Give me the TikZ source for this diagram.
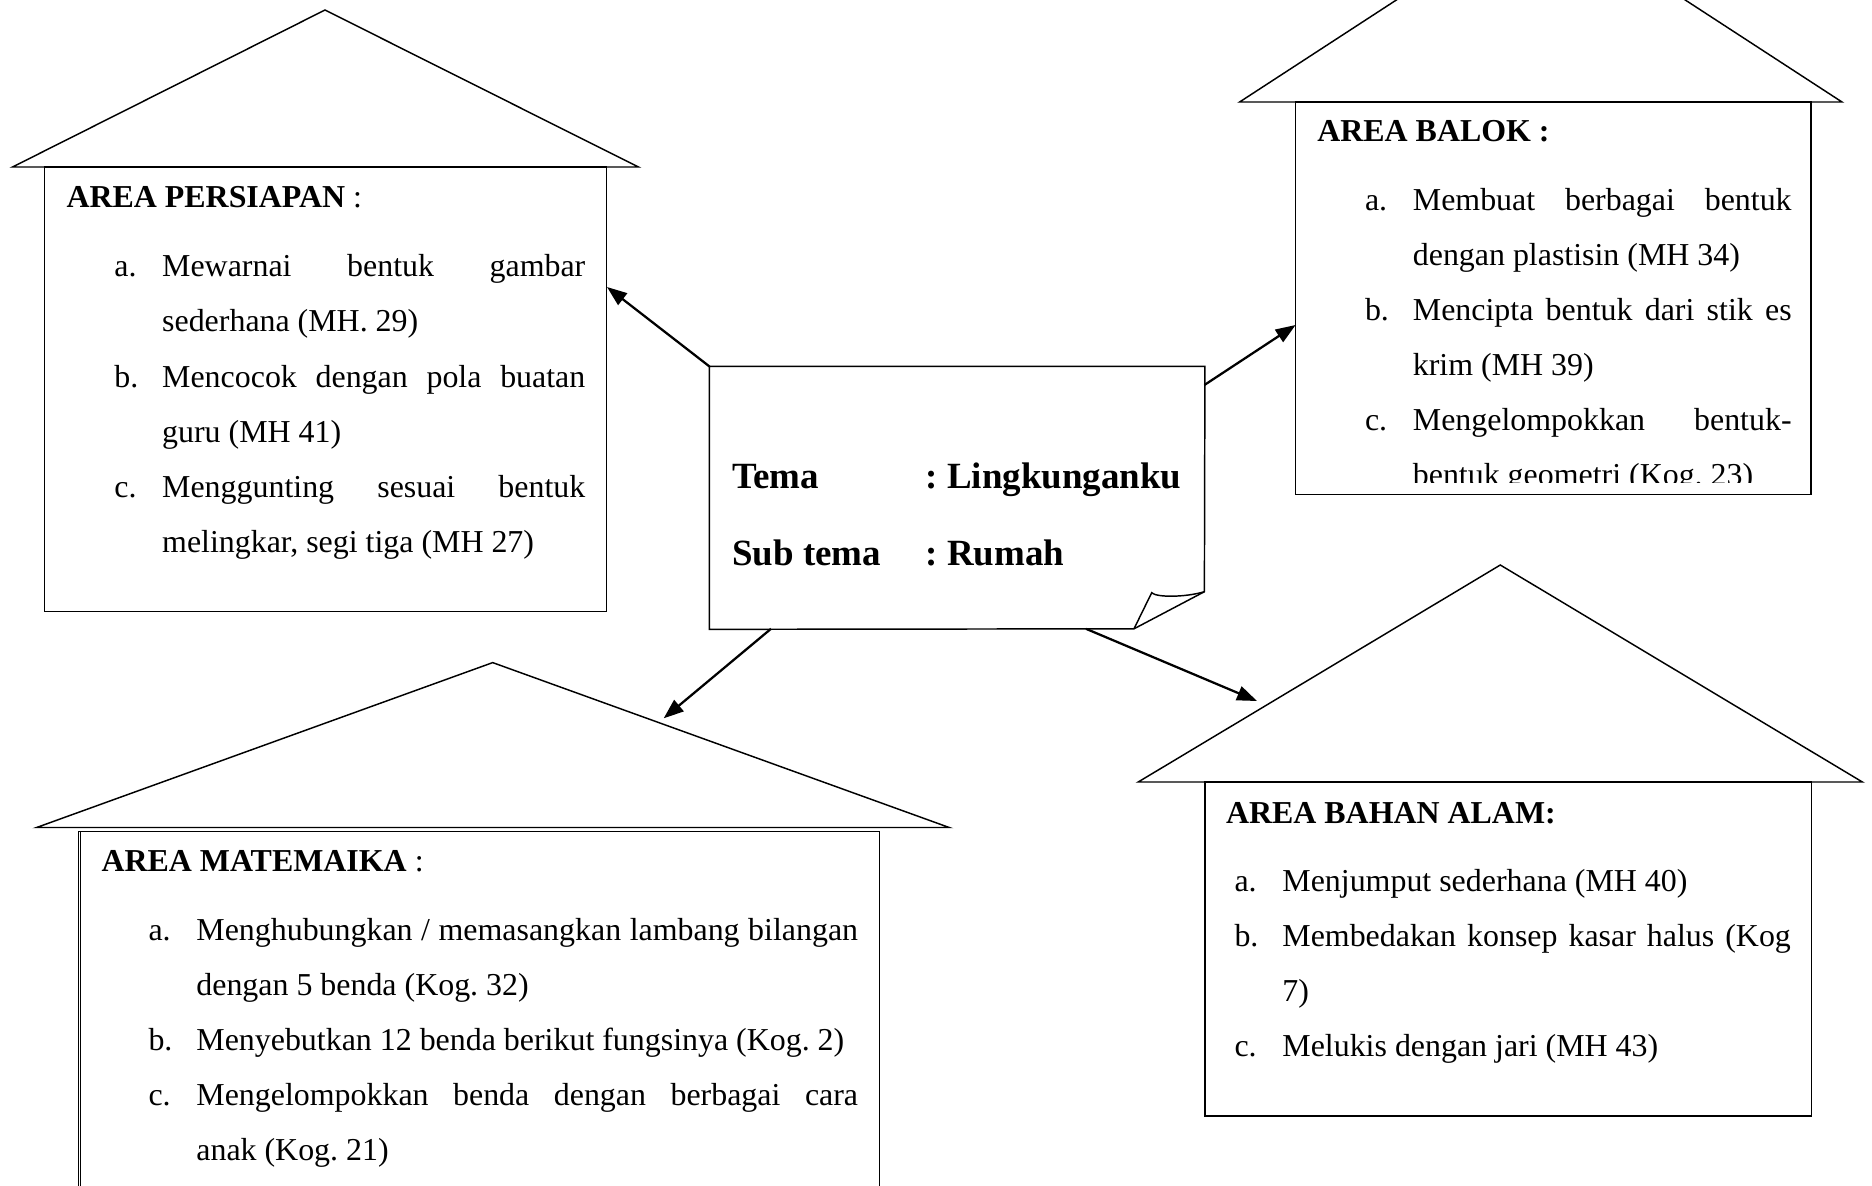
\documentclass[tikz,border=0pt]{standalone}
\usepackage{fontspec}
\setmainfont{Liberation Serif}
\usetikzlibrary{arrows.meta,fit}
\frenchspacing
% one-line item: label + text
\newcommand\OneItm[2]{\spaceskip=0pt\xspaceskip=0pt\makebox[18pt][l]{#1}#2}
% two-line item: label + justified first line + second line
\newcommand\TwoItm[3]{\spaceskip=0pt\xspaceskip=0pt\makebox[18pt][l]{#1}\makebox[\dimexpr\hsize-18pt\relax][s]{#2}\newline\hspace*{18pt}#3}
\tikzset{
  shape line/.style={line width=0.55pt, line join=miter},
  boxnode/.style={draw, line width=0.55pt, inner sep=0pt},
  head/.style={inner sep=0pt, anchor=base west, font=\fontsize{12}{20.7}\selectfont},
  itm/.style={inner sep=0pt, anchor=base west, text width=#1, font=\fontsize{12}{20.7}\selectfont\frenchspacing},
  ttl/.style={inner sep=0pt, anchor=base west, font=\fontsize{13.9}{16}\selectfont\bfseries},
  arr/.style={line width=0.85pt, -{Triangle[length=7.5pt,width=5.5pt]}}
}
\begin{document}
\begin{tikzpicture}[x=0.376pt,y=-0.376pt]
\useasboundingbox (0,0) rectangle (1872,1186);
\clip (0,0) rectangle (1872,1186);

% ---------- AREA PERSIAPAN ----------
\draw[shape line] (12.5,167) -- (325,10) -- (638.4,167) -- cycle;
\node[boxnode, fit={(44.6,167) (606.3,611.5)}] (persiapan) {};
\node[head] (ph) at (66,207.6) {\textbf{AREA PERSIAPAN} :};
\node[itm=177.1pt] (pa) at (113.8,276.8) {\TwoItm{a.}{Mewarnai bentuk gambar}{sederhana (MH. 29)}};
\node[itm=177.1pt] (pb) at (113.8,387) {\TwoItm{b.}{Mencocok dengan pola buatan}{guru (MH 41)}};
\node[itm=177.1pt] (pc) at (113.8,497) {\TwoItm{c.}{Menggunting sesuai bentuk}{melingkar, segi tiga (MH 27)}};

% ---------- AREA BALOK ----------
\draw[shape line] (1239.6,102) -- (1540.8,-94) -- (1842,102) -- cycle;
\node[boxnode, fit={(1295.6,102) (1811,494.5)}] (balok) {};
\node[head] (bh) at (1316.8,141) {\textbf{AREA BALOK :}};
\node[itm=160.4pt] (ba) at (1364.5,210.6) {\TwoItm{a.}{Membuat berbagai bentuk}{dengan plastisin (MH 34)}};
\node[itm=160.4pt] (bb) at (1364.5,320.6) {\TwoItm{b.}{Mencipta bentuk dari stik es}{krim (MH 39)}};
\begin{scope}
\clip (1290,380) rectangle (1815,482);
\node[itm=160.4pt] (bc) at (1364.5,430.6) {\TwoItm{c.}{Mengelompokkan bentuk-}{bentuk geometri (Kog. 23)}};
\end{scope}

% ---------- AREA MATEMAIKA ----------
\draw[shape line] (36.6,827.5) -- (492.7,662.6) -- (949.2,827.5) -- cycle;
\node[boxnode, fit={(78.3,831.7) (879.5,1240)}] (matematika) {};
\draw[shape line] (80.6,831.7) -- (80.6,1240);
\node[head] (mh) at (101,871.5) {\textbf{AREA MATEMAIKA} :};
\node[itm=266.8pt] (ma) at (148,940) {\TwoItm{a.}{Menghubungkan / memasangkan lambang bilangan}{dengan 5 benda (Kog. 32)}};
\node[itm=266.8pt] (mb) at (148,1050.5) {\OneItm{b.}{Menyebutkan 12 benda berikut fungsinya (Kog. 2)}};
\node[itm=266.8pt] (mc) at (148,1105.5) {\TwoItm{c.}{Mengelompokkan benda dengan berbagai cara}{anak (Kog. 21)}};

% ---------- AREA BAHAN ALAM ----------
\draw[shape line] (1138.2,782) -- (1500.3,565) -- (1862.4,782) -- cycle;
\node[boxnode, fit={(1205,782) (1811.5,1116)}] (bahan) {};
\node[head] (ah) at (1225.5,823.2) {\textbf{AREA BAHAN ALAM:}};
\node[itm=209.2pt] (aa) at (1234,891.3) {\OneItm{a.}{Menjumput sederhana (MH 40)}};
\node[itm=209.2pt] (ab) at (1234,946.5) {\TwoItm{b.}{Membedakan konsep kasar halus (Kog}{7)}};
\node[itm=209.2pt] (ac) at (1234,1056.8) {\OneItm{c.}{Melukis dengan jari (MH 43)}};

% ---------- CENTER: TEMA ----------
\node[inner sep=0pt, fit={(710,367) (1204.4,628.8)}] (tema) {};
\draw[shape line] (tema.north west) -- (tema.north east) -- (1204.4,591.7) -- (1134,628.8) -- (tema.south west) -- cycle;
\draw[shape line] (1134,628.8) -- (1151.7,592.7) .. controls (1156,597.5) and (1185,597.5) .. (1204.4,591.7);
\node[ttl] (t1) at (731.7,488.3) {Tema};
\node[ttl] (t2) at (925,488.3) {: Lingkunganku};
\node[ttl] (t3) at (731.7,565) {Sub tema};
\node[ttl] (t4) at (925,565) {: Rumah};

% ---------- arrows ----------
\coordinate (e1) at (607,287);
\coordinate (s2) at (1204.4,385);
\coordinate (e2) at (1295.6,325);
\coordinate (s3) at (771,628.8);
\coordinate (e3) at (663.7,718.3);
\coordinate (s4) at (1086,628.8);
\coordinate (e4) at (1257,701);
\draw[arr] (tema.north west) -- (e1);
\draw[arr] (s2) -- (e2);
\draw[arr] (s3) -- (e3);
\draw[arr] (s4) -- (e4);
\end{tikzpicture}
\end{document}
